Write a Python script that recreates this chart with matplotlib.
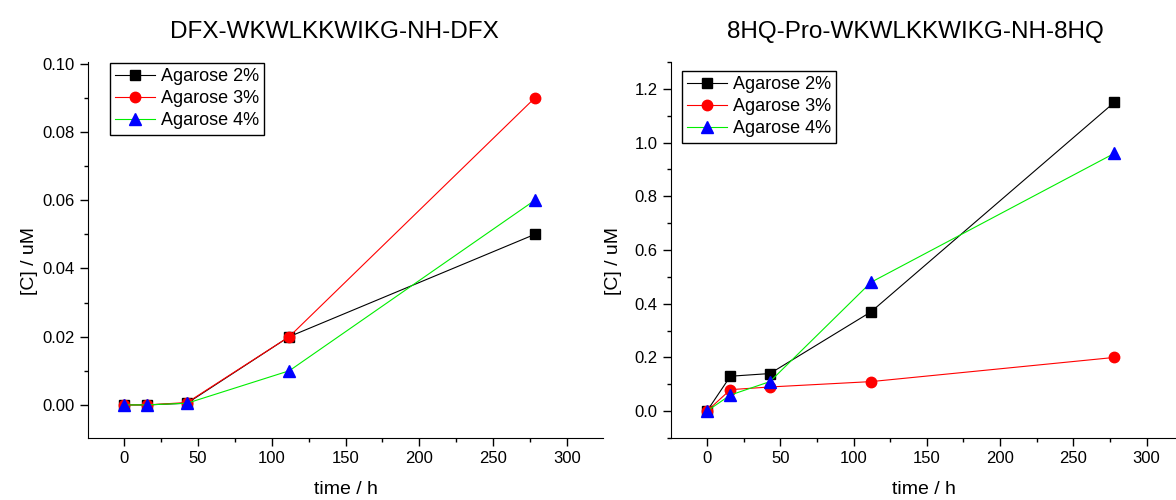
import matplotlib.pyplot as plt
from matplotlib import font_manager
from matplotlib.ticker import MultipleLocator

plt.rcParams['font.family'] = ['Liberation Sans', 'DejaVu Sans']

time_h = [0, 16, 43, 112, 278]
labels = ["Agarose 2%", "Agarose 3%", "Agarose 4%"]

dfx_2 = [0.0, 0.0, 0.0005, 0.02, 0.05]
dfx_3 = [0.0, 0.0, 0.0007, 0.02, 0.09]
dfx_4 = [0.0, 0.0, 0.0005, 0.01, 0.06]

hq_2 = [0.0, 0.13, 0.14, 0.37, 1.15]
hq_3 = [0.0, 0.08, 0.09, 0.11, 0.20]
hq_4 = [0.0, 0.06, 0.11, 0.48, 0.96]

titles = ["DFX-WKWLKKWIKG-NH-DFX", "8HQ-Pro-WKWLKKWIKG-NH-8HQ"]

# titles in the original use a narrow font
names = {f.name for f in font_manager.fontManager.ttflist}
if 'Liberation Sans Narrow' in names:
    title_font = dict(family=['Liberation Sans Narrow', 'DejaVu Sans'], fontsize=21)
else:
    title_font = dict(family=['Liberation Sans', 'DejaVu Sans'], fontsize=17.5)

styles = [dict(color="black", marker="s", mfc="black", mec="black", ms=6.5),
          dict(color="red", marker="o", mfc="red", mec="red", ms=7.5),
          dict(color="#00ee00", marker="^", mfc="blue", mec="blue", ms=8)]

fig = plt.figure(figsize=(11.76, 5.0), dpi=100)
ax1 = fig.add_axes([88/1176, 62/500, (603-88)/1176, (438-62)/500])
ax2 = fig.add_axes([671/1176, 62/500, (1176-671)/1176, (438-62)/500])

def draw(ax, series, title, ylim, ymaj, ymin, xlim, leg_anchor, title_x):
    for vals, lab, st in zip(series, labels, styles):
        ax.plot(time_h, vals, lw=0.8, label=lab, **st)
    ax.set_xlim(*xlim)
    ax.set_ylim(*ylim)
    ax.xaxis.set_major_locator(MultipleLocator(50))
    ax.xaxis.set_minor_locator(MultipleLocator(25))
    ax.yaxis.set_major_locator(MultipleLocator(ymaj))
    ax.yaxis.set_minor_locator(MultipleLocator(ymin))
    ax.spines['top'].set_visible(False)
    ax.spines['right'].set_visible(False)
    ax.tick_params(which='major', direction='out', length=6, width=1, labelsize=12)
    ax.tick_params(which='minor', direction='out', length=3, width=1)
    ax.set_xlabel("time / h", fontsize=14, labelpad=11)
    ax.set_ylabel("[C] / uM", fontsize=14)
    ax.yaxis.set_label_coords(-0.097, 0.47)
    ax.set_title(title, pad=17.5, x=title_x, **title_font)
    leg = ax.legend(loc='upper left', bbox_to_anchor=leg_anchor, borderaxespad=0,
                    fontsize=13, fancybox=False, edgecolor='black', framealpha=1,
                    handlelength=2.2, borderpad=0.3, labelspacing=0.27, handletextpad=0.3)
    leg.get_frame().set_linewidth(1)

draw(ax1, [dfx_2, dfx_3, dfx_4], titles[0], (-0.0097, 0.1005), 0.02, 0.01,
     (-24, 324), (22/515, 1 - 1/376), 0.478)
ax1.yaxis.set_major_formatter(plt.FuncFormatter(lambda v, p: f"{v:.2f}"))
draw(ax2, [hq_2, hq_3, hq_4], titles[1], (-0.1, 1.3), 0.2, 0.1,
     (-24.5, 320), (11/505, 1 - 9/376), 0.483)
ax2.yaxis.set_major_formatter(plt.FuncFormatter(lambda v, p: f"{v:.1f}"))

fig.savefig("out.png", dpi=100)
